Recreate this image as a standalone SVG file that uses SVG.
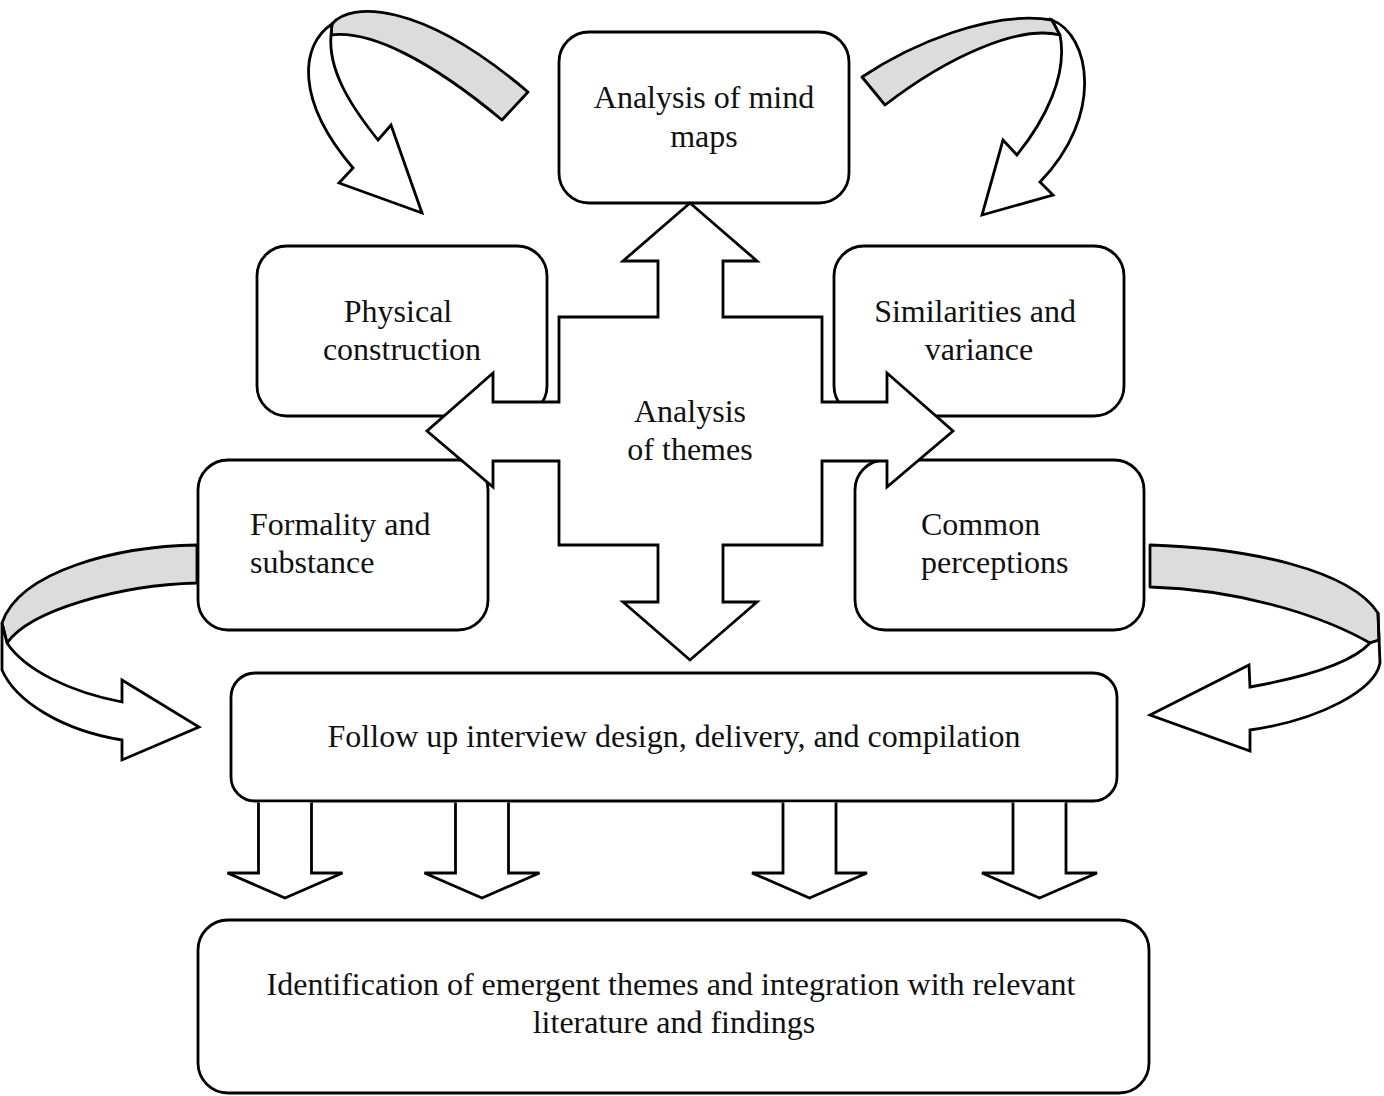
<svg xmlns="http://www.w3.org/2000/svg" width="1384" height="1096" viewBox="0 0 1384 1096">
<style>
.box{fill:#fff;stroke:#000;stroke-width:2.8}
.arr{fill:#fff;stroke:#000;stroke-width:2.8;stroke-linejoin:miter}
.band{fill:#dcdcdc;stroke:#000;stroke-width:2.8;stroke-linejoin:round}
.t{font-family:"Liberation Serif","Times New Roman",serif;font-size:32px;fill:#111}
.c{text-anchor:middle}
</style>
<rect width="1384" height="1096" fill="#fff"/>
<g id="node-mindmaps"><rect class="box" x="559" y="32" width="290" height="171" rx="30"/><text class="t c" x="704" y="108">Analysis of mind</text><text class="t c" x="704" y="147">maps</text></g>
<g id="node-physical"><rect class="box" x="257" y="246" width="290" height="170" rx="30"/><text class="t c" x="398" y="322">Physical</text><text class="t c" x="402" y="360">construction</text></g>
<g id="node-similarities"><rect class="box" x="834" y="246" width="290" height="170" rx="30"/><text class="t c" x="975" y="322">Similarities and</text><text class="t c" x="979" y="360">variance</text></g>
<g id="node-formality"><rect class="box" x="198" y="460" width="290" height="170" rx="30"/><text class="t" x="250" y="535">Formality and</text><text class="t" x="250" y="573">substance</text></g>
<g id="node-common"><rect class="box" x="855" y="460" width="289" height="170" rx="30"/><text class="t" x="921" y="535">Common</text><text class="t" x="921" y="573">perceptions</text></g>
<g id="node-themes"><path class="arr" d="M690,203 L757,261 L723,261 L723,317 L822,317 L822,402 L887,402 L887,373 L953,431 L887,487 L887,461 L822,461 L822,545 L723,545 L723,602 L757,602 L690,660 L623,602 L658,602 L658,545 L559,545 L559,461 L493,461 L493,487 L427,431 L493,373 L493,402 L559,402 L559,317 L658,317 L658,261 L623,261 Z"/><text class="t c" x="690" y="422">Analysis</text><text class="t c" x="690" y="460">of themes</text></g>
<g id="node-followup"><rect class="box" x="231" y="673" width="886" height="128" rx="24"/><text class="t c" x="674" y="747">Follow up interview design, delivery, and compilation</text></g>
<g id="node-identification"><rect class="box" x="198" y="920" width="951" height="173" rx="30"/><text class="t c" x="671" y="995">Identification of emergent themes and integration with relevant</text><text class="t c" x="674" y="1033">literature and findings</text></g>
<g id="connectors">
<path class="band" d="M332,24 C350,2 420,0 528,92 L502,120 C430,60 370,30 331,35 Z"/>
<path class="arr" d="M332,24 C300,45 295,100 353,168 L339,183 L422,213 L391,125 L378,140 C350,105 328,70 331,35 Z"/>
<path class="band" d="M862,77 C910,45 990,10 1052,20 L1060,35 C1020,25 950,55 885,105 Z"/>
<path class="arr" d="M1052,20 C1090,35 1105,115 1040,182 L1053,195 L982,215 L1003,140 L1017,155 C1045,120 1068,75 1060,35 Z"/>
<path class="band" d="M197,545 C120,546 20,570 2,623 L7,643 C30,610 120,585 197,583 Z"/>
<path class="arr" d="M2,623 L2,670 C15,700 60,730 122,740 L122,760 L199,727 L122,680 L122,702 C70,692 25,670 7,643 Z"/>
<path class="band" d="M1150,545 C1250,548 1350,570 1378,613 L1379,640 L1370,643 C1330,620 1250,590 1150,587 Z"/>
<path class="arr" d="M1378,613 L1380,663 C1375,690 1320,720 1250,730 L1250,751 L1150,715 L1249,665 L1250,687 C1300,678 1350,665 1370,643 L1379,640 Z"/>
<path class="arr" d="M258.5,802.4 L258.5,873 L227.5,873 L285,898 L342.5,873 L311.5,873 L311.5,802.4"/>
<path class="arr" d="M455.5,802.4 L455.5,873 L424.5,873 L482,898 L539.5,873 L508.5,873 L508.5,802.4"/>
<path class="arr" d="M783,802.4 L783,873 L752,873 L809.5,898 L867,873 L836,873 L836,802.4"/>
<path class="arr" d="M1013,802.4 L1013,873 L982,873 L1039.5,898 L1097,873 L1066,873 L1066,802.4"/>
</g>
</svg>
